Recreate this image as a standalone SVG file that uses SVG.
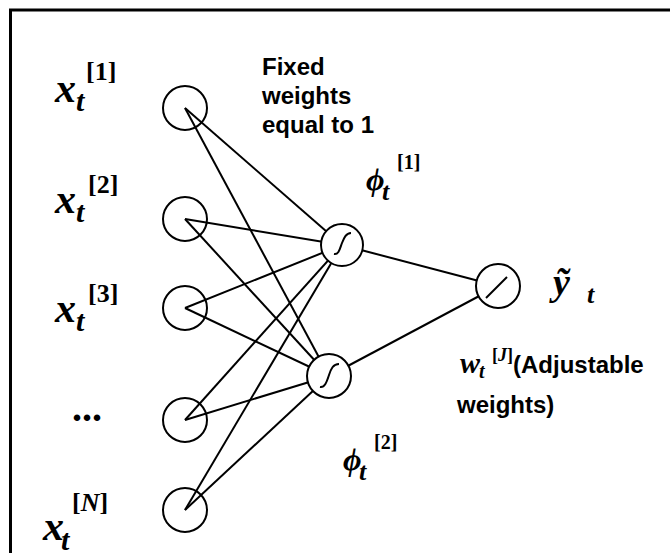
<svg xmlns="http://www.w3.org/2000/svg" width="670" height="553" viewBox="0 0 670 553">
<style>
.node{fill:none;stroke:#000;stroke-width:2}
.wnode{fill:#fff;stroke:#000;stroke-width:2}
.edge{stroke:#000;stroke-width:2;fill:none}
.sym{stroke:#000;stroke-width:2;fill:none}
.mx{font-family:"Liberation Serif",serif;font-weight:bold;font-style:italic;fill:#000}
.sup{font-family:"Liberation Serif",serif;font-weight:bold;fill:#000}
.lab{font-family:"Liberation Sans",Arial,sans-serif;font-weight:bold;font-size:24px;fill:#000}
</style>
<rect width="670" height="553" fill="#fff"/>
<path d="M10.5,553 V10 H670" fill="none" stroke="#000" stroke-width="3"/>
<g id="connectors">
<line class="edge" x1="185" y1="108" x2="342" y2="245"/>
<line class="edge" x1="185" y1="108" x2="329" y2="376"/>
<line class="edge" x1="185" y1="219" x2="342" y2="245"/>
<line class="edge" x1="185" y1="219" x2="329" y2="376"/>
<line class="edge" x1="185" y1="308" x2="342" y2="245"/>
<line class="edge" x1="185" y1="308" x2="329" y2="376"/>
<line class="edge" x1="185" y1="420" x2="342" y2="245"/>
<line class="edge" x1="185" y1="420" x2="329" y2="376"/>
<line class="edge" x1="185" y1="510" x2="342" y2="245"/>
<line class="edge" x1="185" y1="510" x2="329" y2="376"/>
<line class="edge" x1="342" y1="245" x2="498" y2="286"/>
<line class="edge" x1="329" y1="376" x2="498" y2="286"/>
</g>
<g id="in1"><circle class="node" cx="185" cy="108" r="22"/>
<text class="mx" x="55" y="102" font-size="42">x</text><text class="mx" x="76" y="111" font-size="30">t</text><text class="sup" x="86" y="80" font-size="26">[1]</text></g>
<g id="in2"><circle class="node" cx="185" cy="219" r="22"/>
<text class="mx" x="55" y="213" font-size="42">x</text><text class="mx" x="76" y="222" font-size="30">t</text><text class="sup" x="88" y="193" font-size="26">[2]</text></g>
<g id="in3"><circle class="node" cx="185" cy="308" r="22"/>
<text class="mx" x="55" y="322" font-size="42">x</text><text class="mx" x="76" y="331" font-size="30">t</text><text class="sup" x="88" y="302" font-size="26">[3]</text></g>
<g id="in4"><circle class="node" cx="185" cy="420" r="22"/>
<text class="sup" x="72" y="421" font-size="40">...</text></g>
<g id="inN"><circle class="node" cx="185" cy="510" r="22"/>
<text class="mx" x="43" y="540" font-size="42">x</text><text class="mx" x="61" y="550" font-size="30">t</text><text class="sup" x="72" y="511" font-size="26">[<tspan font-style="italic">N</tspan>]</text></g>
<g id="h1"><circle class="wnode" cx="342" cy="245" r="21"/>
<path class="sym" d="M334,254 C339,255 340,248 342,243 S346,233 351,233"/>
<text class="mx" x="366" y="190" font-size="32">ϕ</text><text class="mx" x="382" y="200" font-size="26">t</text><text class="sup" x="397" y="169" font-size="20">[1]</text></g>
<g id="h2"><circle class="wnode" cx="329" cy="376" r="22"/>
<path class="sym" d="M320,387 C325,388 327,381 329,375 S333,364 339,364"/>
<text class="mx" x="343" y="470" font-size="32">ϕ</text><text class="mx" x="359" y="480" font-size="26">t</text><text class="sup" x="374" y="449" font-size="20">[2]</text></g>
<g id="out"><circle class="wnode" cx="498" cy="286" r="22"/>
<line class="sym" x1="486" y1="298" x2="507" y2="277"/>
<text class="mx" x="553" y="295" font-size="38">ỹ</text><text class="mx" x="587" y="303" font-size="26">t</text></g>
<g id="lab-fixed"><text class="lab" x="262" y="75">Fixed</text><text class="lab" x="262" y="104">weights</text><text class="lab" x="262" y="133">equal to 1</text></g>
<g id="lab-adj"><text class="mx" x="460" y="373" font-size="30">w</text><text class="mx" x="479" y="378" font-size="20">t</text><text class="sup" x="492" y="361" font-size="18">[<tspan font-style="italic">J</tspan>]</text>
<text class="lab" x="513" y="373">(Adjustable</text><text class="lab" x="457" y="413">weights)</text></g>
</svg>
